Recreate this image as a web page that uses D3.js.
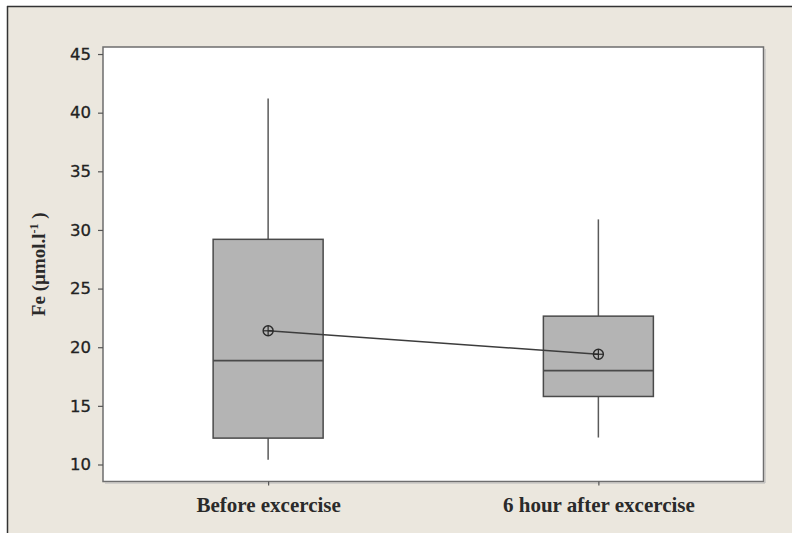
<!DOCTYPE html>
<html>
<head>
<meta charset="utf-8">
<script src="https://cdn.jsdelivr.net/npm/d3@7"></script>
<style>
  html, body { margin: 0; padding: 0; background: #ffffff; }
  svg { display: block; }
</style>
</head>
<body>
<svg id="chart" width="792" height="533"></svg>
<script>
// Serum iron before and 6 hours after exercise (box plot with means)
const groups = ["Before excercise", "6 hour after excercise"];
const whiskerLow = [10.4, 12.3];
const q1 = [12.25, 15.8];
const median = [18.85, 18.0];
const q3 = [29.2, 22.65];
const whiskerHigh = [41.2, 30.9];
const means = [21.4, 19.4];
const yTicks = [10, 15, 20, 25, 30, 35, 40, 45];

const W = 792, H = 533;
const plot = { left: 103, right: 763.5, top: 47, bottom: 481.5 };

const svg = d3.select("#chart");

// window-like frame
svg.append("rect").attr("x", 7).attr("y", 6).attr("width", W - 7).attr("height", H - 6)
  .attr("fill", "#ebe7de");
svg.append("line").attr("x1", 7).attr("x2", W).attr("y1", 6.5).attr("y2", 6.5)
  .attr("stroke", "#333").attr("stroke-width", 1.5);
svg.append("line").attr("x1", 7.5).attr("x2", 7.5).attr("y1", 6).attr("y2", H)
  .attr("stroke", "#333").attr("stroke-width", 1.5);

// plotting area
svg.append("rect")
  .attr("x", plot.left).attr("y", plot.top)
  .attr("width", plot.right - plot.left).attr("height", plot.bottom - plot.top)
  .attr("fill", "#ffffff").attr("stroke", "#6e6e6e").attr("stroke-width", 1.5);
// slight shadow on the right and bottom edges
svg.append("path")
  .attr("d", `M${plot.left + 2},${plot.bottom + 1.5}H${plot.right + 1.5}V${plot.top + 2}`)
  .attr("fill", "none").attr("stroke", "#b8b8b8").attr("stroke-width", 1);

const x = d3.scalePoint().domain(groups).range([plot.left, plot.right]).padding(0.5);
const y = d3.scaleLinear().domain([8.55, 45.6]).range([plot.bottom, plot.top]);
const boxW = 110;

// y axis
const yAxis = svg.append("g").attr("transform", `translate(${plot.left},0)`)
  .call(d3.axisLeft(y).tickValues(yTicks).tickSize(5).tickPadding(7).tickFormat(d3.format("d")));
yAxis.select(".domain").remove();
yAxis.selectAll(".tick line").attr("stroke", "#555").attr("stroke-width", 1.2);
yAxis.selectAll(".tick text")
  .attr("font-family", "'DejaVu Sans', sans-serif").attr("font-size", 16.5)
  .attr("fill", "#222").attr("stroke", "#222").attr("stroke-width", 0.3);

// x axis
const xAxis = svg.append("g").attr("transform", `translate(0,${plot.bottom})`)
  .call(d3.axisBottom(x).tickSize(4).tickPadding(12));
xAxis.select(".domain").remove();
xAxis.selectAll(".tick line").attr("stroke", "#555").attr("stroke-width", 1.2);
xAxis.selectAll(".tick text")
  .attr("font-family", "'Liberation Serif', 'Times New Roman', serif")
  .attr("font-size", 21).attr("font-weight", "bold").attr("fill", "#2a2a2a");

// y axis title
const title = svg.append("text")
  .attr("transform", `translate(45,${(plot.top + plot.bottom) / 2}) rotate(-90)`)
  .attr("text-anchor", "middle")
  .attr("font-family", "'Liberation Serif', 'Times New Roman', serif")
  .attr("font-size", 19).attr("font-weight", "bold").attr("fill", "#2a2a2a");
title.append("tspan").text("Fe (µmol.l");
title.append("tspan").attr("font-size", 12).attr("dy", -7).text("-1");
title.append("tspan").attr("dy", 7).text(" )");

const idx = d3.range(groups.length);

// whiskers
const g = svg.append("g");
g.selectAll(".whisker-hi").data(idx).join("line")
  .attr("x1", i => x(groups[i])).attr("x2", i => x(groups[i]))
  .attr("y1", i => y(q3[i])).attr("y2", i => y(whiskerHigh[i]))
  .attr("stroke", "#5a5a5a").attr("stroke-width", 1.5);
g.selectAll(".whisker-lo").data(idx).join("line")
  .attr("x1", i => x(groups[i])).attr("x2", i => x(groups[i]))
  .attr("y1", i => y(q1[i])).attr("y2", i => y(whiskerLow[i]))
  .attr("stroke", "#5a5a5a").attr("stroke-width", 1.5);

// boxes
g.selectAll(".box").data(idx).join("rect")
  .attr("x", i => x(groups[i]) - boxW / 2).attr("width", boxW)
  .attr("y", i => y(q3[i])).attr("height", i => y(q1[i]) - y(q3[i]))
  .attr("fill", "#b4b4b4").attr("stroke", "#4a4a4a").attr("stroke-width", 1.5);

// medians
g.selectAll(".median").data(idx).join("line")
  .attr("x1", i => x(groups[i]) - boxW / 2).attr("x2", i => x(groups[i]) + boxW / 2)
  .attr("y1", i => y(median[i])).attr("y2", i => y(median[i]))
  .attr("stroke", "#4a4a4a").attr("stroke-width", 1.8);

// mean connect line
svg.append("path")
  .datum(idx)
  .attr("d", d3.line().x(i => x(groups[i])).y(i => y(means[i])))
  .attr("fill", "none").attr("stroke", "#3c3c3c").attr("stroke-width", 1.5);

// mean symbols (circle with cross)
const m = svg.selectAll(".mean").data(idx).join("g")
  .attr("transform", i => `translate(${x(groups[i])},${y(means[i])})`);
m.append("circle").attr("r", 5).attr("fill", "none").attr("stroke", "#2a2a2a").attr("stroke-width", 1.4);
m.append("line").attr("x1", -5).attr("x2", 5).attr("stroke", "#2a2a2a").attr("stroke-width", 1.2);
m.append("line").attr("y1", -5).attr("y2", 5).attr("stroke", "#2a2a2a").attr("stroke-width", 1.2);
</script>
</body>
</html>
